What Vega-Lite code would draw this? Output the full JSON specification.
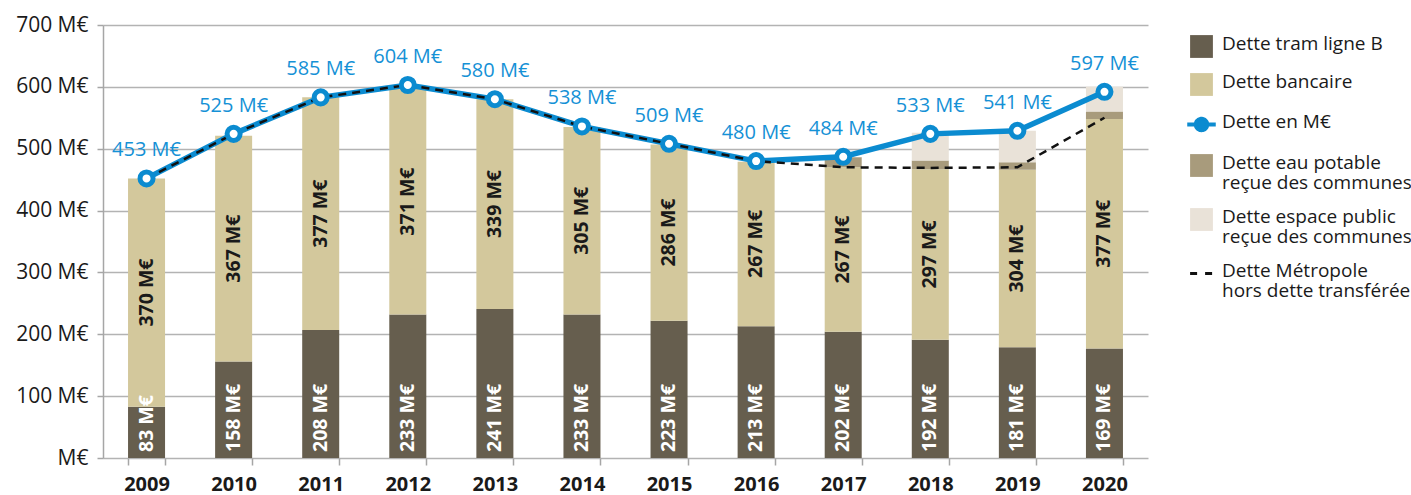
{
  "$schema": "https://vega.github.io/schema/vega-lite/v6.json",
  "width": 1045,
  "height": 433,
  "autosize": {"type": "none"},
  "padding": {"left": 103, "top": 25, "right": 263, "bottom": 37},
  "background": "white",
  "config": {"view": {"stroke": null}, "font": "Open Sans"},
  "datasets": {
    "bars": [
      {"year": "2009", "serie": "Dette tram ligne B", "ord": 1, "value": 83, "label": "83 M€"},
      {"year": "2009", "serie": "Dette bancaire", "ord": 2, "value": 369, "label": "370 M€"},
      {"year": "2010", "serie": "Dette tram ligne B", "ord": 1, "value": 156, "label": "158 M€"},
      {"year": "2010", "serie": "Dette bancaire", "ord": 2, "value": 365, "label": "367 M€"},
      {"year": "2011", "serie": "Dette tram ligne B", "ord": 1, "value": 207, "label": "208 M€"},
      {"year": "2011", "serie": "Dette bancaire", "ord": 2, "value": 376, "label": "377 M€"},
      {"year": "2012", "serie": "Dette tram ligne B", "ord": 1, "value": 232, "label": "233 M€"},
      {"year": "2012", "serie": "Dette bancaire", "ord": 2, "value": 365, "label": "371 M€"},
      {"year": "2013", "serie": "Dette tram ligne B", "ord": 1, "value": 241, "label": "241 M€"},
      {"year": "2013", "serie": "Dette bancaire", "ord": 2, "value": 339, "label": "339 M€"},
      {"year": "2014", "serie": "Dette tram ligne B", "ord": 1, "value": 232, "label": "233 M€"},
      {"year": "2014", "serie": "Dette bancaire", "ord": 2, "value": 303, "label": "305 M€"},
      {"year": "2015", "serie": "Dette tram ligne B", "ord": 1, "value": 222, "label": "223 M€"},
      {"year": "2015", "serie": "Dette bancaire", "ord": 2, "value": 285, "label": "286 M€"},
      {"year": "2016", "serie": "Dette tram ligne B", "ord": 1, "value": 213, "label": "213 M€"},
      {"year": "2016", "serie": "Dette bancaire", "ord": 2, "value": 266, "label": "267 M€"},
      {"year": "2017", "serie": "Dette tram ligne B", "ord": 1, "value": 204, "label": "202 M€"},
      {"year": "2017", "serie": "Dette bancaire", "ord": 2, "value": 266, "label": "267 M€"},
      {"year": "2017", "serie": "Dette eau potable reçue des communes", "ord": 3, "value": 16, "label": ""},
      {"year": "2018", "serie": "Dette tram ligne B", "ord": 1, "value": 191, "label": "192 M€"},
      {"year": "2018", "serie": "Dette bancaire", "ord": 2, "value": 276, "label": "297 M€"},
      {"year": "2018", "serie": "Dette eau potable reçue des communes", "ord": 3, "value": 14, "label": ""},
      {"year": "2018", "serie": "Dette espace public reçue des communes", "ord": 4, "value": 45, "label": ""},
      {"year": "2019", "serie": "Dette tram ligne B", "ord": 1, "value": 179, "label": "181 M€"},
      {"year": "2019", "serie": "Dette bancaire", "ord": 2, "value": 287, "label": "304 M€"},
      {"year": "2019", "serie": "Dette eau potable reçue des communes", "ord": 3, "value": 12, "label": ""},
      {"year": "2019", "serie": "Dette espace public reçue des communes", "ord": 4, "value": 51, "label": ""},
      {"year": "2020", "serie": "Dette tram ligne B", "ord": 1, "value": 177, "label": "169 M€"},
      {"year": "2020", "serie": "Dette bancaire", "ord": 2, "value": 371, "label": "377 M€"},
      {"year": "2020", "serie": "Dette eau potable reçue des communes", "ord": 3, "value": 12, "label": ""},
      {"year": "2020", "serie": "Dette espace public reçue des communes", "ord": 4, "value": 40, "label": ""}
    ],
    "totals": [
      {"year": "2009", "total": 452, "metro": 452, "label": "453 M€"},
      {"year": "2010", "total": 524, "metro": 524, "label": "525 M€"},
      {"year": "2011", "total": 583, "metro": 583, "label": "585 M€"},
      {"year": "2012", "total": 603, "metro": 603, "label": "604 M€"},
      {"year": "2013", "total": 580, "metro": 580, "label": "580 M€"},
      {"year": "2014", "total": 536, "metro": 536, "label": "538 M€"},
      {"year": "2015", "total": 508, "metro": 508, "label": "509 M€"},
      {"year": "2016", "total": 480, "metro": 480, "label": "480 M€"},
      {"year": "2017", "total": 487, "metro": 470, "label": "484 M€"},
      {"year": "2018", "total": 524, "metro": 469, "label": "533 M€"},
      {"year": "2019", "total": 529, "metro": 470, "label": "541 M€"},
      {"year": "2020", "total": 592, "metro": 550, "label": "597 M€"}
    ]
  },
  "encoding": {
    "x": {
      "field": "year",
      "type": "ordinal",
      "scale": {"paddingInner": 0.575, "paddingOuter": 0.2875},
      "axis": {
        "title": null,
        "labelAngle": 0,
        "labelFont": "Open Sans",
        "labelFontSize": 20,
        "labelFontWeight": "bold",
        "labelColor": "#1a1a1a",
        "labelPadding": 9,
        "domain": false,
        "tickBand": "extent",
        "tickSize": 7,
        "tickColor": "#a6a6a6",
        "tickWidth": 1.5
      }
    }
  },
  "layer": [
    {
      "data": {"name": "bars"},
      "mark": {"type": "bar"},
      "encoding": {
        "y": {
          "field": "value",
          "type": "quantitative",
          "stack": "zero",
          "scale": {"domain": [0, 700], "nice": false},
          "axis": {
            "title": null,
            "values": [0, 100, 200, 300, 400, 500, 600, 700],
            "labelExpr": "datum.value == 0 ? 'M€' : datum.value + ' M€'",
            "labelFont": "Open Sans",
            "labelFontSize": 21,
            "labelColor": "#1a1a1a",
            "labelPadding": 9,
            "grid": true,
            "gridColor": "#b3b3b3",
            "gridWidth": 1.5,
            "domainColor": "#a6a6a6",
            "domainWidth": 1.5,
            "tickColor": "#a6a6a6",
            "tickWidth": 1.5,
            "tickSize": 6
          }
        },
        "color": {
          "field": "serie",
          "type": "nominal",
          "scale": {
            "domain": ["Dette tram ligne B", "Dette bancaire", "Dette en M€", "Dette eau potable reçue des communes", "Dette espace public reçue des communes", "Dette Métropole hors dette transférée"],
            "range": ["#665e4e", "#d3c89c", "#0b8bd0", "#a89b7c", "#e9e2d8", "#111111"]
          },
          "legend": {
            "title": null,
            "orient": "none",
            "legendX": 1089,
            "legendY": 12,
            "labelFont": "Open Sans",
            "labelFontSize": 19,
            "labelColor": "#1a1a1a",
            "labelLimit": 300,
            "labelOffset": 11,
            "labelBaseline": "top",
            "rowPadding": 14,
            "symbolSize": 520,
            "labelExpr": "datum.label == 'Dette eau potable reçue des communes' ? ['Dette eau potable', 'reçue des communes'] : datum.label == 'Dette espace public reçue des communes' ? ['Dette espace public', 'reçue des communes'] : datum.label == 'Dette Métropole hors dette transférée' ? ['Dette Métropole', 'hors dette transférée'] : datum.label",
            "encode": {
              "labels": {"update": {"dy": {"value": -12}, "lineHeight": {"value": 20}}},
              "symbols": {
                "update": {
                  "shape": {"signal": "datum.value == 'Dette en M€' ? 'M-1.25,0L-0.5,0M0.5,0L1.25,0M0.5,0A0.5,0.5 0 1,1 -0.5,0A0.5,0.5 0 1,1 0.5,0' : datum.value == 'Dette Métropole hors dette transférée' ? 'M-1,0L1,0' : 'square'"},
                  "fill": {"signal": "datum.value == 'Dette en M€' ? '#ffffff' : datum.value == 'Dette Métropole hors dette transférée' ? 'transparent' : scale('color', datum.value)"},
                  "stroke": {"signal": "datum.value == 'Dette en M€' ? '#0b8bd0' : datum.value == 'Dette Métropole hors dette transférée' ? '#111111' : 'transparent'"},
                  "strokeWidth": {"signal": "datum.value == 'Dette en M€' ? 4 : datum.value == 'Dette Métropole hors dette transférée' ? 3 : 0"},
                  "strokeDash": {"signal": "datum.value == 'Dette Métropole hors dette transférée' ? [7, 8] : [1, 0]"},
                  "opacity": {"value": 1}
                }
              }
            }
          }
        },
        "order": {"field": "ord", "type": "quantitative"}
      }
    },
    {
      "data": {"name": "bars"},
      "transform": [
        {"filter": "datum.ord == 1"}
      ],
      "mark": {"type": "text", "angle": 270, "align": "left", "baseline": "middle", "dx": 6, "font": "Open Sans", "fontSize": 19.5, "fontWeight": "bold", "color": "#ffffff"},
      "encoding": {
        "y": {"datum": 0, "type": "quantitative"},
        "text": {"field": "label"}
      }
    },
    {
      "data": {"name": "bars"},
      "transform": [
        {"filter": "datum.ord <= 2"},
        {"stack": "value", "groupby": ["year"], "sort": [{"field": "ord"}], "as": ["v0", "v1"]},
        {"filter": "datum.ord == 2"},
        {"fold": ["v0", "v1"], "as": ["edge", "pos"]},
        {"aggregate": [{"op": "mean", "field": "pos", "as": "mid"}], "groupby": ["year", "label"]}
      ],
      "mark": {"type": "text", "angle": 270, "align": "center", "baseline": "middle", "font": "Open Sans", "fontSize": 19.5, "fontWeight": "bold", "color": "#1a1a1a"},
      "encoding": {
        "y": {"field": "mid", "type": "quantitative"},
        "text": {"field": "label"}
      }
    },
    {
      "data": {"name": "totals"},
      "mark": {"type": "line", "color": "#0b8bd0", "strokeWidth": 5.5},
      "encoding": {"y": {"field": "total", "type": "quantitative"}}
    },
    {
      "data": {"name": "totals"},
      "mark": {"type": "line", "color": "#111111", "strokeWidth": 2.5, "strokeDash": [8, 6]},
      "encoding": {"y": {"field": "metro", "type": "quantitative"}}
    },
    {
      "data": {"name": "totals"},
      "mark": {"type": "point", "shape": "circle", "filled": false, "fill": "#ffffff", "fillOpacity": 1, "stroke": "#0b8bd0", "strokeWidth": 5, "size": 170, "opacity": 1},
      "encoding": {"y": {"field": "total", "type": "quantitative"}}
    },
    {
      "data": {"name": "totals"},
      "mark": {"type": "text", "baseline": "alphabetic", "align": "center", "dy": -22, "font": "Open Sans", "fontSize": 20, "color": "#1591d6"},
      "encoding": {
        "y": {"field": "total", "type": "quantitative"},
        "text": {"field": "label"}
      }
    }
  ]
}
